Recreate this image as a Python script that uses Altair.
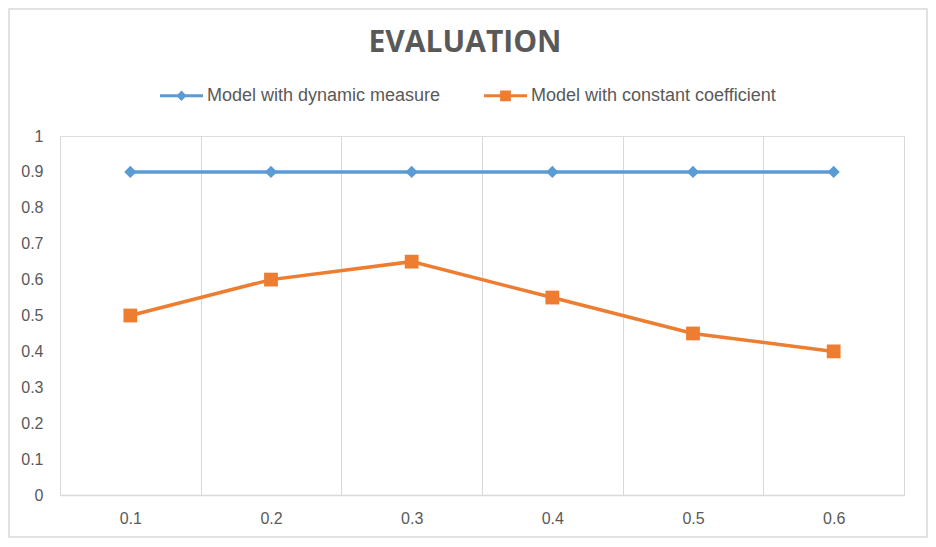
import altair as alt
import pandas as pd

categories = ["0.1", "0.2", "0.3", "0.4", "0.5", "0.6"]
dynamic_measure = [0.9, 0.9, 0.9, 0.9, 0.9, 0.9]
constant_coefficient = [0.5, 0.6, 0.65, 0.55, 0.45, 0.4]
series_names = ["Model with dynamic measure", "Model with constant coefficient"]
series_colors = ["#5B9BD5", "#ED7D31"]
y_ticks = [0, 0.1, 0.2, 0.3, 0.4, 0.5, 0.6, 0.7, 0.8, 0.9, 1]

rows = []
for c, v in zip(categories, dynamic_measure):
    rows.append({"cat": c, "value": v, "series": series_names[0]})
for c, v in zip(categories, constant_coefficient):
    rows.append({"cat": c, "value": v, "series": series_names[1]})
df = pd.DataFrame(rows)

FONT = "Liberation Sans"
TXT = "#595959"
GRID = "#D9D9D9"

x_enc = alt.X(
    "cat:N",
    sort=categories,
    bandPosition=0.5,
    scale=alt.Scale(type="band", paddingInner=0, paddingOuter=0),
    axis=alt.Axis(
        title=None, labelAngle=0, tickBand="extent", grid=True, gridColor=GRID,
        gridWidth=1, domainColor=GRID, domainWidth=1.5, ticks=False,
        labelPadding=15, labelFontSize=16, labelColor=TXT, labelFont=FONT,
    ),
)
y_enc = alt.Y(
    "value:Q",
    scale=alt.Scale(domain=[0, 1]),
    axis=alt.Axis(
        title=None, values=y_ticks, format="~g", grid=False, domain=False,
        ticks=False, labelPadding=17, labelFontSize=16, labelColor=TXT,
        labelFont=FONT,
    ),
)

layers = []
# outer chart frame
frame = alt.Chart(alt.Data(values=[{}])).mark_rect(
    fill=None, stroke=GRID, strokeWidth=1.5
).encode(
    x=alt.value(-51), x2=alt.value(867), y=alt.value(-127), y2=alt.value(401)
)
layers.append(frame)

shapes = ["diamond", "square"]
sizes = [150, 190]
for name, color, shp, sz in zip(series_names, series_colors, shapes, sizes):
    base = alt.Chart(df).transform_filter(alt.datum.series == name)
    layers.append(
        base.mark_line(color=color, strokeWidth=3.5).encode(x=x_enc, y=y_enc)
    )
    layers.append(
        base.mark_point(shape=shp, filled=True, opacity=1, color=color, size=sz)
        .encode(x=x_enc, y=y_enc)
    )

diamond_path = "M-1,-0.07H1V0.07H-1Z M0,-0.24L0.24,0L0,0.24L-0.24,0Z"
square_path = "M-1,-0.07H1V0.07H-1Z M-0.25,-0.25H0.25V0.25H-0.25Z"

legend_cfg = dict(
    title=None, orient="none", legendX=100, legendY=-62,
    direction="horizontal", labelFontSize=18, labelFont=FONT,
    labelColor=TXT, symbolSize=1849, symbolStrokeWidth=0,
    symbolOpacity=1, columnPadding=43, labelOffset=4, labelLimit=400,
)

legend_layer = alt.Chart(df).mark_point(filled=True, opacity=0).encode(
    x=x_enc,
    y=y_enc,
    color=alt.Color(
        "series:N",
        scale=alt.Scale(domain=series_names, range=series_colors),
        legend=alt.Legend(**legend_cfg),
    ),
    shape=alt.Shape(
        "series:N",
        scale=alt.Scale(domain=series_names, range=[diamond_path, square_path]),
        legend=alt.Legend(**legend_cfg),
    ),
)
layers.append(legend_layer)

chart = alt.layer(*layers).properties(
    width=844,
    height=359,
    autosize=alt.AutoSizeParams(type="none"),
    padding={"left": 52, "top": 128, "right": 24, "bottom": 43},
    title=alt.Title(
        "EVALUATION", fontSize=30, fontWeight="bold", color=TXT,
        font="Open Sans", anchor="middle", dx=-17, offset=-50,
    ),
).configure_view(stroke=None).configure(background="white")

chart.save("out.html", embed_options={"renderer": "svg", "actions": False})
